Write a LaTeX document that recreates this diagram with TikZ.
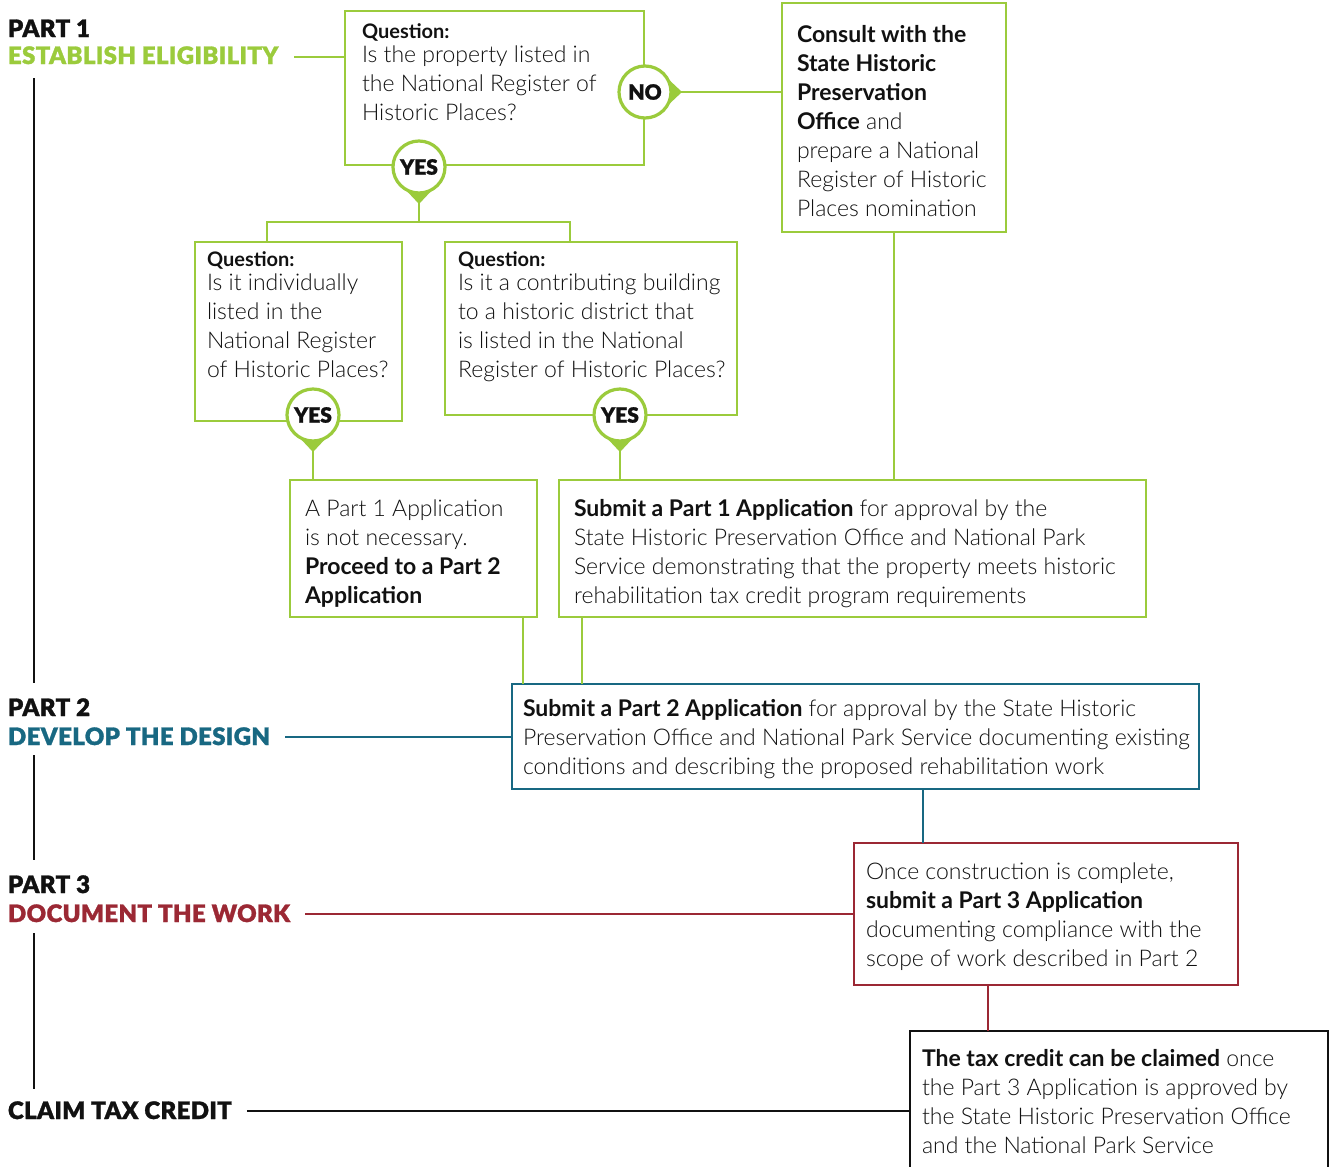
\documentclass[tikz,border=0pt]{standalone}
\usepackage{fontspec}
\setmainfont{Lato}[UprightFont=* Light, BoldFont=* Bold]
\newfontfamily\heavyfont{Lato}[UprightFont=* Black, LetterSpace=1.5, FakeBold=1.2]
\newfontfamily\bubfont{Lato}[UprightFont=* Black, FakeBold=1.2]
\newfontfamily\semifont{Lato}[UprightFont=* Bold]
\usetikzlibrary{calc}
\definecolor{lgreen}{RGB}{155,203,60}
\definecolor{lteal}{RGB}{24,104,130}
\definecolor{lred}{RGB}{155,40,52}
\definecolor{ink}{RGB}{17,17,17}
\begin{document}
\begin{tikzpicture}[x=1pt,y=-1pt,
  boxbase/.style={rectangle, line width=2.8pt, inner sep=0pt, outer sep=0pt, anchor=north west, fill=white},
  boxg/.style={boxbase, draw=lgreen},
  boxt/.style={boxbase, draw=lteal},
  boxr/.style={boxbase, draw=lred},
  boxk/.style={boxbase, draw=ink},
  txt/.style={anchor=north west, align=left, inner sep=0pt, outer sep=0pt, text=ink, font=\fontsize{23}{29}\selectfont},
  head/.style={anchor=base west, inner sep=0pt, outer sep=0pt, text=ink, font=\heavyfont\fontsize{24}{29}\selectfont},
  gl/.style={draw=lgreen, line width=2.8pt},
  tl/.style={draw=lteal, line width=2.8pt},
  rl/.style={draw=lred, line width=2.8pt},
  kl/.style={draw=ink, line width=2.8pt},
  bubble/.style={circle, draw=lgreen, line width=3.2pt, fill=white, minimum size=52pt, inner sep=0pt, text=ink, font=\bubfont\fontsize{21}{24}\selectfont},
]
\useasboundingbox[fill=white] (0,0) rectangle (1333,1167);

% ---------------- headings ----------------
\node[head] (p1) at (8,37) {PART 1};
\node[head, text=lgreen] (h1) at (8,64) {ESTABLISH ELIGIBILITY};
\node[head] (p2) at (8,716) {PART 2};
\node[head, text=lteal] (h2) at (8,745) {DEVELOP THE DESIGN};
\node[head] (p3) at (8,893) {PART 3};
\node[head, text=lred] (h3) at (8,922) {DOCUMENT THE WORK};
\node[head] (h4) at (8,1119) {CLAIM TAX CREDIT};

% timeline segments
\coordinate (v1a) at (34,78);  \coordinate (v1b) at (34,683);
\coordinate (v2a) at (34,755); \coordinate (v2b) at (34,860);
\coordinate (v3a) at (34,933); \coordinate (v3b) at (34,1089);
\draw[kl] (v1a) -- (v1b);
\draw[kl] (v2a) -- (v2b);
\draw[kl] (v3a) -- (v3b);

% ---------------- boxes ----------------
\node[boxg, minimum width=299, minimum height=154] (q1) at (345,11) {};
\node[boxg, minimum width=224, minimum height=229] (cons) at (782,3) {};
\node[boxg, minimum width=207, minimum height=179] (q2) at (195,242) {};
\node[boxg, minimum width=292, minimum height=173] (q3) at (445,242) {};
\node[boxg, minimum width=247, minimum height=137] (nn) at (290,480) {};
\node[boxg, minimum width=587, minimum height=137] (s1) at (559,480) {};
\node[boxt, minimum width=687, minimum height=105] (s2) at (512,684) {};
\node[boxr, minimum width=384, minimum height=142] (s3) at (854,843) {};
\node[boxk, minimum width=418, minimum height=142] (tc) at (910,1031) {};

% ---------------- box texts ----------------
\node[txt] (q1t) at (362,17.7) {\strut{\semifont\fontsize{20}{29}\selectfont Question:}\\[-5pt]Is the property listed in\\the National Register of\\Historic Places?};
\node[txt] (const) at (797,21.7) {\strut\textbf{Consult with the}\\\textbf{State Historic}\\\textbf{Preservation}\\\textbf{Office} and\\prepare a National\\Register of Historic\\Places nomination};
\node[txt] (q2t) at (207,245.7) {\strut{\semifont\fontsize{20}{29}\selectfont Question:}\\[-5pt]Is it individually\\listed in the\\National Register\\of Historic Places?};
\node[txt] (q3t) at (458,245.7) {\strut{\semifont\fontsize{20}{29}\selectfont Question:}\\[-5pt]Is it a contributing building\\to a historic district that\\is listed in the National\\Register of Historic Places?};
\node[txt] (nnt) at (305,495.7) {\strut A Part 1 Application\\is not necessary.\\\textbf{Proceed to a Part 2}\\\textbf{Application}};
\node[txt] (s1t) at (574,495.7) {\strut\textbf{Submit a Part 1 Application} for approval by the\\State Historic Preservation Office and National Park\\Service demonstrating that the property meets historic\\rehabilitation tax credit program requirements};
\node[txt] (s2t) at (523,695.7) {\strut\textbf{Submit a Part 2 Application} for approval by the State Historic\\Preservation Office and National Park Service documenting existing\\conditions and describing the proposed rehabilitation work};
\node[txt] (s3t) at (866,858.7) {\strut Once construction is complete,\\\textbf{submit a Part 3 Application}\\documenting compliance with the\\scope of work described in Part 2};
\node[txt] (tct) at (922,1045.7) {\strut\textbf{The tax credit can be claimed} once\\the Part 3 Application is approved by\\the State Historic Preservation Office\\and the National Park Service};

% ---------------- heading connectors ----------------
\draw[gl] ($(h1.base east)+(16,-7)$) coordinate (h1s) -- (h1s -| q1.west);
\draw[tl] ($(h2.base east)+(15,-8)$) coordinate (h2s) -- (h2s -| s2.west);
\draw[rl] ($(h3.base east)+(15,-8)$) coordinate (h3s) -- (h3s -| s3.west);
\draw[kl] ($(h4.base east)+(15,-8)$) coordinate (h4s) -- (h4s -| tc.west);

% ---------------- flow connectors ----------------
\coordinate (c1) at (419,167);
\coordinate (c2) at (313,415);
\coordinate (c3) at (620,415);
\coordinate (cn) at (645,92);
\coordinate (b1) at (267,222);
\coordinate (b2) at (570,222);

% YES from q1 -> branch
\draw[gl] ($(c1)+(0,30)$) -- (c1 |- b1);
\draw[gl] (b1 |- q2.north) -- (b1) -- (b2) -- (b2 |- q3.north);
% NO -> consult
\draw[gl] ($(cn)+(30,0)$) coordinate (nt) -- (nt -| cons.west);
% consult -> submit part 1
\draw[gl] (cons.south) -- (cons.south |- s1.north);
% YES q2 -> not necessary ; YES q3 -> submit part 1
\draw[gl] ($(c2)+(0,30)$) -- (c2 |- nn.north);
\draw[gl] ($(c3)+(0,30)$) -- (c3 |- s1.north);
% to part 2
\coordinate (d1) at (523,650);
\coordinate (d2) at (582,650);
\draw[gl] (d1 |- nn.south) -- (d1 |- s2.north);
\draw[gl] (d2 |- s1.south) -- (d2 |- s2.north);
% part 2 -> part 3 -> claim
\coordinate (d3) at (923,800);
\coordinate (d4) at (988,1000);
\draw[tl] (d3 |- s2.south) -- (d3 |- s3.north);
\draw[rl] (d4 |- s3.south) -- (d4 |- tc.north);

% ---------------- bubbles ----------------
\fill[lgreen] ($(c1)+(-16,20)$) -- ($(c1)+(16,20)$) -- ($(c1)+(0,37)$) -- cycle;
\fill[lgreen] ($(c2)+(-16,20)$) -- ($(c2)+(16,20)$) -- ($(c2)+(0,37)$) -- cycle;
\fill[lgreen] ($(c3)+(-16,20)$) -- ($(c3)+(16,20)$) -- ($(c3)+(0,37)$) -- cycle;
\fill[lgreen] ($(cn)+(20,-16)$) -- ($(cn)+(20,16)$) -- ($(cn)+(37,0)$) -- cycle;
\node[bubble] (yes1) at (c1) {YES};
\node[bubble] (yes2) at (c2) {YES};
\node[bubble] (yes3) at (c3) {YES};
\node[bubble] (no1) at (cn) {NO};
\end{tikzpicture}
\end{document}
